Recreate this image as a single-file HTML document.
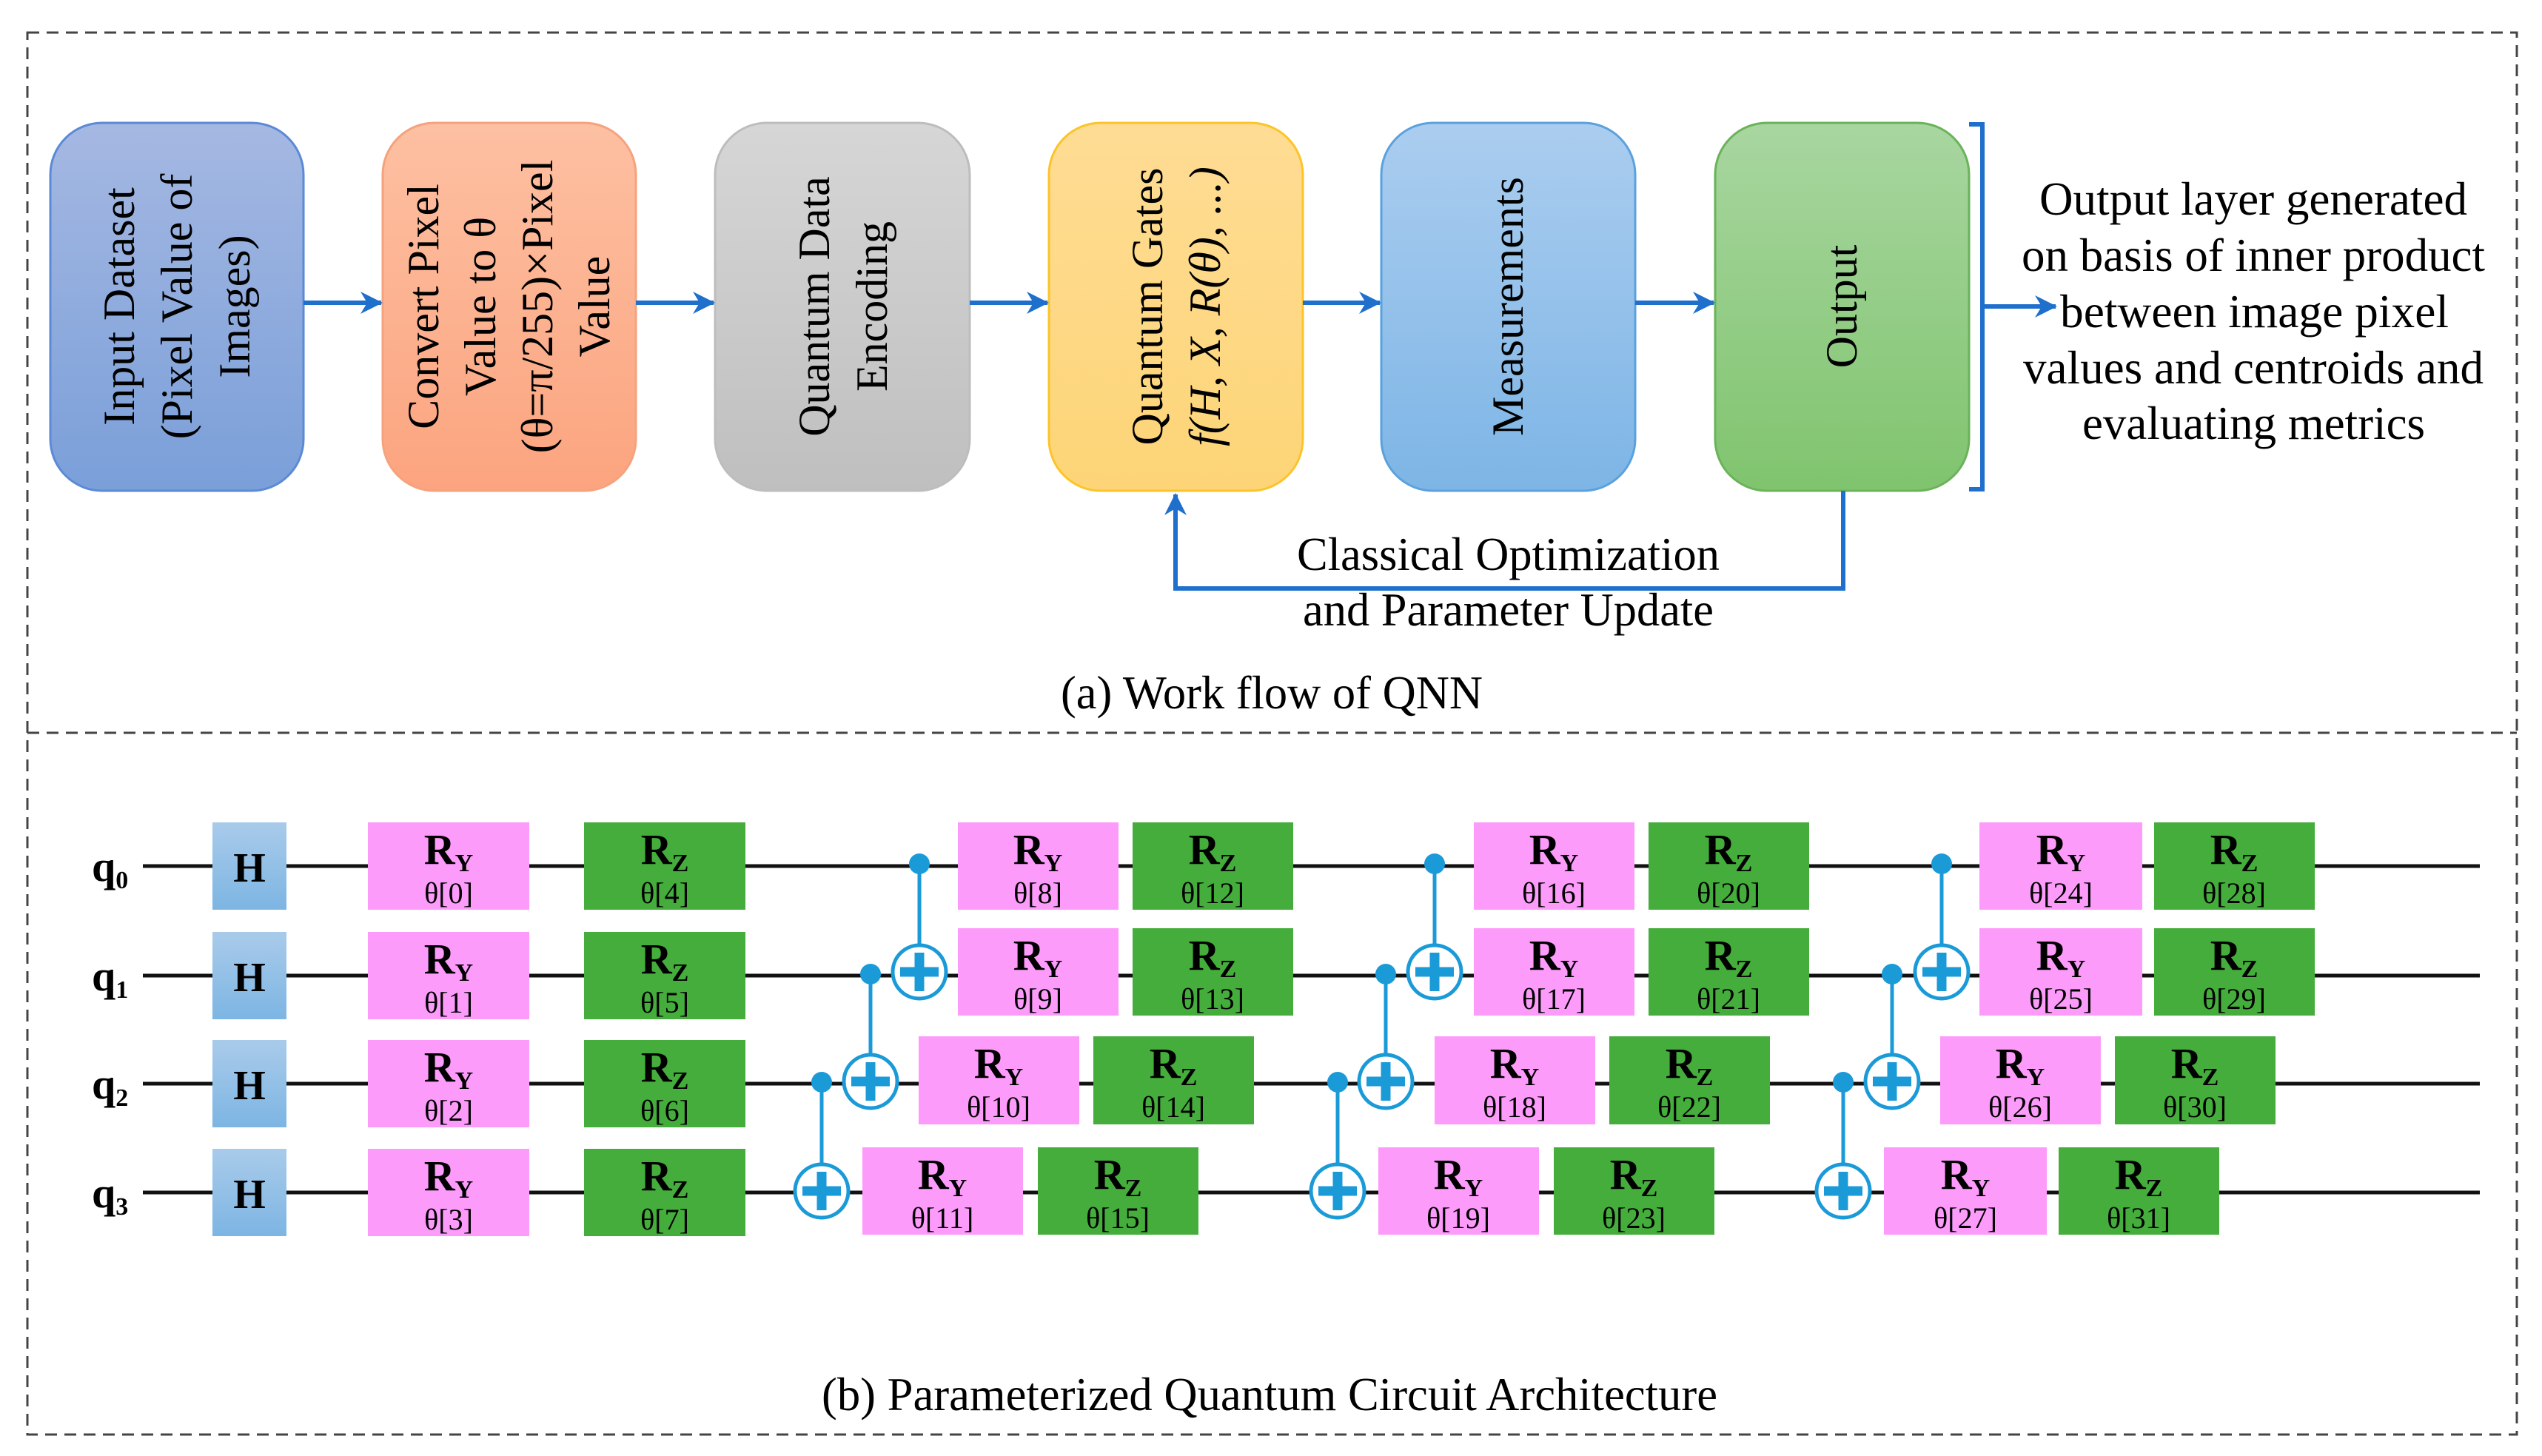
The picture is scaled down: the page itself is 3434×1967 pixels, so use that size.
<!DOCTYPE html>
<html><head><meta charset="utf-8"><style>
html,body{margin:0;padding:0;background:#fff}
svg{display:block}
text{font-family:"Liberation Serif","Times New Roman",serif;fill:#000}
.bt{font-size:60px}
.g{font-weight:bold;font-size:58px}
.s{font-weight:bold;font-size:34px}
.t{font-size:40px}
.c{font-size:64px}
</style></head><body>
<svg width="3434" height="1967" viewBox="0 0 3434 1967" xmlns="http://www.w3.org/2000/svg" font-family="Liberation Serif, serif">
<defs>
<linearGradient id="g1" x1="0" y1="0" x2="0" y2="1"><stop offset="0" stop-color="#a5b8e2"/><stop offset="1" stop-color="#7a9fd9"/></linearGradient>
<linearGradient id="g2" x1="0" y1="0" x2="0" y2="1"><stop offset="0" stop-color="#fdc0a2"/><stop offset="1" stop-color="#fca47f"/></linearGradient>
<linearGradient id="g3" x1="0" y1="0" x2="0" y2="1"><stop offset="0" stop-color="#d6d6d6"/><stop offset="1" stop-color="#bfbfbf"/></linearGradient>
<linearGradient id="g4" x1="0" y1="0" x2="0" y2="1"><stop offset="0" stop-color="#fedc94"/><stop offset="1" stop-color="#fdd577"/></linearGradient>
<linearGradient id="g5" x1="0" y1="0" x2="0" y2="1"><stop offset="0" stop-color="#abcdef"/><stop offset="1" stop-color="#7db5e6"/></linearGradient>
<linearGradient id="g6" x1="0" y1="0" x2="0" y2="1"><stop offset="0" stop-color="#a8d6a0"/><stop offset="1" stop-color="#80c46e"/></linearGradient>
<linearGradient id="gh" x1="0" y1="0" x2="0" y2="1"><stop offset="0" stop-color="#a9cbea"/><stop offset="1" stop-color="#7db5e3"/></linearGradient>
<marker id="ar2" viewBox="0 0 30 30" refX="28" refY="15" markerWidth="30" markerHeight="30" markerUnits="userSpaceOnUse" orient="auto">
<path d="M0,0 L30,15 L0,30 L9,15 Z" fill="#1f6fcc"/></marker>
</defs>

<rect x="37" y="44" width="3363" height="1894" fill="none" stroke="#444" stroke-width="3" stroke-dasharray="16,10"/>
<line x1="37" y1="990" x2="3400" y2="990" stroke="#444" stroke-width="3" stroke-dasharray="16,10"/>

<rect x="68" y="166" width="342" height="497" rx="70" fill="url(#g1)" stroke="#5b8ad6" stroke-width="3"/>
<rect x="517" y="166" width="342" height="497" rx="70" fill="url(#g2)" stroke="#f5a27d" stroke-width="3"/>
<rect x="966" y="166" width="344" height="497" rx="70" fill="url(#g3)" stroke="#bdbdbd" stroke-width="3"/>
<rect x="1417" y="166" width="343" height="497" rx="70" fill="url(#g4)" stroke="#fcc429" stroke-width="3"/>
<rect x="1866" y="166" width="343" height="497" rx="70" fill="url(#g5)" stroke="#5aa1de" stroke-width="3"/>
<rect x="2317" y="166" width="343" height="497" rx="70" fill="url(#g6)" stroke="#6ab35a" stroke-width="3"/>

<g transform="rotate(-90 239 414)"><text class="bt" x="239" y="414" text-anchor="middle">
<tspan x="239" dy="-58">Input Dataset</tspan><tspan x="239" dy="78">(Pixel Value of</tspan><tspan x="239" dy="78">Images)</tspan></text></g>
<g transform="rotate(-90 688 414)"><text class="bt" x="688" y="414" text-anchor="middle">
<tspan x="688" dy="-96">Convert Pixel</tspan><tspan x="688" dy="77">Value to θ</tspan><tspan x="688" dy="77">(θ=π/255)×Pixel</tspan><tspan x="688" dy="77">Value</tspan></text></g>
<g transform="rotate(-90 1138 414)"><text class="bt" x="1138" y="414" text-anchor="middle">
<tspan x="1138" dy="-18">Quantum Data</tspan><tspan x="1138" dy="78">Encoding</tspan></text></g>
<g transform="rotate(-90 1588 414)"><text class="bt" x="1588" y="414" text-anchor="middle">
<tspan x="1588" dy="-18">Quantum Gates</tspan><tspan x="1588" dy="78" font-style="italic">f(H, X, R(θ), ...)</tspan></text></g>
<g transform="rotate(-90 2037 414)"><text class="bt" x="2037" y="414" text-anchor="middle" dy="20">Measurements</text></g>
<g transform="rotate(-90 2488 414)"><text class="bt" x="2488" y="414" text-anchor="middle" dy="20">Output</text></g>

<g stroke="#1f6fcc" stroke-width="6" fill="none">
<line x1="410" y1="409" x2="515" y2="409" marker-end="url(#ar2)"/>
<line x1="859" y1="409" x2="964" y2="409" marker-end="url(#ar2)"/>
<line x1="1310" y1="409" x2="1415" y2="409" marker-end="url(#ar2)"/>
<line x1="1760" y1="409" x2="1864" y2="409" marker-end="url(#ar2)"/>
<line x1="2209" y1="409" x2="2315" y2="409" marker-end="url(#ar2)"/>
<path d="M2660,168 H2678 V661 H2660"/>
<line x1="2678" y1="414" x2="2777" y2="414" marker-end="url(#ar2)"/>
<path d="M2490,663 V795 H1588 V668" marker-end="url(#ar2)"/>
</g>

<text class="c" x="2755" y="290" textLength="578" lengthAdjust="spacingAndGlyphs">Output layer generated</text>
<text class="c" x="2731" y="366" textLength="626" lengthAdjust="spacingAndGlyphs">on basis of inner product</text>
<text class="c" x="2783" y="442" textLength="525" lengthAdjust="spacingAndGlyphs">between image pixel</text>
<text class="c" x="2733" y="518" textLength="622" lengthAdjust="spacingAndGlyphs">values and centroids and</text>
<text class="c" x="2813" y="593" textLength="463" lengthAdjust="spacingAndGlyphs">evaluating metrics</text>
<text class="c" x="1752" y="770" textLength="571" lengthAdjust="spacingAndGlyphs">Classical Optimization</text>
<text class="c" x="1760" y="845" textLength="555" lengthAdjust="spacingAndGlyphs">and Parameter Update</text>
<text class="c" x="1433" y="957" textLength="570" lengthAdjust="spacingAndGlyphs">(a) Work flow of QNN</text>
<text class="c" x="1110" y="1905" textLength="1210" lengthAdjust="spacingAndGlyphs">(b) Parameterized Quantum Circuit Architecture</text>

<g stroke="#111" stroke-width="5">
<line x1="193" y1="1170" x2="3350" y2="1170"/>
<line x1="193" y1="1318" x2="3350" y2="1318"/>
<line x1="193" y1="1464" x2="3350" y2="1464"/>
<line x1="193" y1="1611" x2="3350" y2="1611"/>
</g>
<g style="font-weight:bold;font-size:58px">
<text x="124" y="1190">q<tspan font-size="34" dy="10">0</tspan></text>
<text x="124" y="1338">q<tspan font-size="34" dy="10">1</tspan></text>
<text x="124" y="1484">q<tspan font-size="34" dy="10">2</tspan></text>
<text x="124" y="1631">q<tspan font-size="34" dy="10">3</tspan></text>
</g>

<g fill="url(#gh)">
<rect x="287" y="1111" width="100" height="118"/>
<rect x="287" y="1259" width="100" height="118"/>
<rect x="287" y="1405" width="100" height="118"/>
<rect x="287" y="1552" width="100" height="118"/>
</g>
<g style="font-weight:bold;font-size:56px">
<text x="337" y="1191" text-anchor="middle">H</text>
<text x="337" y="1339" text-anchor="middle">H</text>
<text x="337" y="1485" text-anchor="middle">H</text>
<text x="337" y="1632" text-anchor="middle">H</text>
</g>

<g fill="#fd9bfb">
<rect x="497" y="1111" width="218" height="118"/><rect x="497" y="1259" width="218" height="118"/><rect x="497" y="1405" width="218" height="118"/><rect x="497" y="1552" width="218" height="118"/>
<rect x="1294" y="1111" width="217" height="118"/><rect x="1294" y="1254" width="217" height="118"/><rect x="1241" y="1400" width="217" height="119"/><rect x="1165" y="1550" width="217" height="118"/>
<rect x="1991" y="1111" width="217" height="118"/><rect x="1991" y="1254" width="217" height="118"/><rect x="1938" y="1400" width="217" height="119"/><rect x="1862" y="1550" width="217" height="118"/>
<rect x="2674" y="1111" width="220" height="118"/><rect x="2674" y="1254" width="220" height="118"/><rect x="2621" y="1400" width="217" height="119"/><rect x="2545" y="1550" width="220" height="118"/>
</g>
<g fill="#44ad3b">
<rect x="789" y="1111" width="218" height="118"/><rect x="789" y="1259" width="218" height="118"/><rect x="789" y="1405" width="218" height="118"/><rect x="789" y="1552" width="218" height="118"/>
<rect x="1530" y="1111" width="217" height="118"/><rect x="1530" y="1254" width="217" height="118"/><rect x="1477" y="1400" width="217" height="119"/><rect x="1402" y="1550" width="217" height="118"/>
<rect x="2227" y="1111" width="217" height="118"/><rect x="2227" y="1254" width="217" height="118"/><rect x="2174" y="1400" width="217" height="119"/><rect x="2099" y="1550" width="217" height="118"/>
<rect x="2910" y="1111" width="217" height="118"/><rect x="2910" y="1254" width="217" height="118"/><rect x="2857" y="1400" width="217" height="119"/><rect x="2781" y="1550" width="217" height="118"/>
</g>

<g>
<text class="g" x="606" y="1167" text-anchor="middle">R<tspan class="s" dy="10">Y</tspan></text><text class="t" x="606" y="1220" text-anchor="middle">θ[0]</text>
<text class="g" x="606" y="1315" text-anchor="middle">R<tspan class="s" dy="10">Y</tspan></text><text class="t" x="606" y="1368" text-anchor="middle">θ[1]</text>
<text class="g" x="606" y="1461" text-anchor="middle">R<tspan class="s" dy="10">Y</tspan></text><text class="t" x="606" y="1514" text-anchor="middle">θ[2]</text>
<text class="g" x="606" y="1608" text-anchor="middle">R<tspan class="s" dy="10">Y</tspan></text><text class="t" x="606" y="1661" text-anchor="middle">θ[3]</text>
<text class="g" x="898" y="1167" text-anchor="middle">R<tspan class="s" dy="10">Z</tspan></text><text class="t" x="898" y="1220" text-anchor="middle">θ[4]</text>
<text class="g" x="898" y="1315" text-anchor="middle">R<tspan class="s" dy="10">Z</tspan></text><text class="t" x="898" y="1368" text-anchor="middle">θ[5]</text>
<text class="g" x="898" y="1461" text-anchor="middle">R<tspan class="s" dy="10">Z</tspan></text><text class="t" x="898" y="1514" text-anchor="middle">θ[6]</text>
<text class="g" x="898" y="1608" text-anchor="middle">R<tspan class="s" dy="10">Z</tspan></text><text class="t" x="898" y="1661" text-anchor="middle">θ[7]</text>
<text class="g" x="1402" y="1167" text-anchor="middle">R<tspan class="s" dy="10">Y</tspan></text><text class="t" x="1402" y="1220" text-anchor="middle">θ[8]</text>
<text class="g" x="1402" y="1310" text-anchor="middle">R<tspan class="s" dy="10">Y</tspan></text><text class="t" x="1402" y="1363" text-anchor="middle">θ[9]</text>
<text class="g" x="1349" y="1456" text-anchor="middle">R<tspan class="s" dy="10">Y</tspan></text><text class="t" x="1349" y="1509" text-anchor="middle">θ[10]</text>
<text class="g" x="1273" y="1606" text-anchor="middle">R<tspan class="s" dy="10">Y</tspan></text><text class="t" x="1273" y="1659" text-anchor="middle">θ[11]</text>
<text class="g" x="1638" y="1167" text-anchor="middle">R<tspan class="s" dy="10">Z</tspan></text><text class="t" x="1638" y="1220" text-anchor="middle">θ[12]</text>
<text class="g" x="1638" y="1310" text-anchor="middle">R<tspan class="s" dy="10">Z</tspan></text><text class="t" x="1638" y="1363" text-anchor="middle">θ[13]</text>
<text class="g" x="1585" y="1456" text-anchor="middle">R<tspan class="s" dy="10">Z</tspan></text><text class="t" x="1585" y="1509" text-anchor="middle">θ[14]</text>
<text class="g" x="1510" y="1606" text-anchor="middle">R<tspan class="s" dy="10">Z</tspan></text><text class="t" x="1510" y="1659" text-anchor="middle">θ[15]</text>
<text class="g" x="2099" y="1167" text-anchor="middle">R<tspan class="s" dy="10">Y</tspan></text><text class="t" x="2099" y="1220" text-anchor="middle">θ[16]</text>
<text class="g" x="2099" y="1310" text-anchor="middle">R<tspan class="s" dy="10">Y</tspan></text><text class="t" x="2099" y="1363" text-anchor="middle">θ[17]</text>
<text class="g" x="2046" y="1456" text-anchor="middle">R<tspan class="s" dy="10">Y</tspan></text><text class="t" x="2046" y="1509" text-anchor="middle">θ[18]</text>
<text class="g" x="1970" y="1606" text-anchor="middle">R<tspan class="s" dy="10">Y</tspan></text><text class="t" x="1970" y="1659" text-anchor="middle">θ[19]</text>
<text class="g" x="2335" y="1167" text-anchor="middle">R<tspan class="s" dy="10">Z</tspan></text><text class="t" x="2335" y="1220" text-anchor="middle">θ[20]</text>
<text class="g" x="2335" y="1310" text-anchor="middle">R<tspan class="s" dy="10">Z</tspan></text><text class="t" x="2335" y="1363" text-anchor="middle">θ[21]</text>
<text class="g" x="2282" y="1456" text-anchor="middle">R<tspan class="s" dy="10">Z</tspan></text><text class="t" x="2282" y="1509" text-anchor="middle">θ[22]</text>
<text class="g" x="2207" y="1606" text-anchor="middle">R<tspan class="s" dy="10">Z</tspan></text><text class="t" x="2207" y="1659" text-anchor="middle">θ[23]</text>
<text class="g" x="2784" y="1167" text-anchor="middle">R<tspan class="s" dy="10">Y</tspan></text><text class="t" x="2784" y="1220" text-anchor="middle">θ[24]</text>
<text class="g" x="2784" y="1310" text-anchor="middle">R<tspan class="s" dy="10">Y</tspan></text><text class="t" x="2784" y="1363" text-anchor="middle">θ[25]</text>
<text class="g" x="2729" y="1456" text-anchor="middle">R<tspan class="s" dy="10">Y</tspan></text><text class="t" x="2729" y="1509" text-anchor="middle">θ[26]</text>
<text class="g" x="2655" y="1606" text-anchor="middle">R<tspan class="s" dy="10">Y</tspan></text><text class="t" x="2655" y="1659" text-anchor="middle">θ[27]</text>
<text class="g" x="3018" y="1167" text-anchor="middle">R<tspan class="s" dy="10">Z</tspan></text><text class="t" x="3018" y="1220" text-anchor="middle">θ[28]</text>
<text class="g" x="3018" y="1310" text-anchor="middle">R<tspan class="s" dy="10">Z</tspan></text><text class="t" x="3018" y="1363" text-anchor="middle">θ[29]</text>
<text class="g" x="2965" y="1456" text-anchor="middle">R<tspan class="s" dy="10">Z</tspan></text><text class="t" x="2965" y="1509" text-anchor="middle">θ[30]</text>
<text class="g" x="2889" y="1606" text-anchor="middle">R<tspan class="s" dy="10">Z</tspan></text><text class="t" x="2889" y="1659" text-anchor="middle">θ[31]</text>
</g>

<g stroke="#1b9ad8" stroke-width="5">
<line x1="1242" y1="1167" x2="1242" y2="1278"/>
<line x1="1176" y1="1316" x2="1176" y2="1426"/>
<line x1="1110" y1="1462" x2="1110" y2="1573"/>
<line x1="1938" y1="1167" x2="1938" y2="1278"/>
<line x1="1872" y1="1316" x2="1872" y2="1426"/>
<line x1="1807" y1="1462" x2="1807" y2="1573"/>
<line x1="2623" y1="1167" x2="2623" y2="1278"/>
<line x1="2556" y1="1316" x2="2556" y2="1426"/>
<line x1="2490" y1="1462" x2="2490" y2="1573"/>
</g>
<g fill="#1b9ad8">
<circle cx="1242" cy="1167" r="14"/><circle cx="1176" cy="1316" r="14"/><circle cx="1110" cy="1462" r="14"/>
<circle cx="1938" cy="1167" r="14"/><circle cx="1872" cy="1316" r="14"/><circle cx="1807" cy="1462" r="14"/>
<circle cx="2623" cy="1167" r="14"/><circle cx="2556" cy="1316" r="14"/><circle cx="2490" cy="1462" r="14"/>
</g>
<g fill="#fff" stroke="#1b9ad8" stroke-width="5">
<circle cx="1242" cy="1313" r="36"/><circle cx="1176" cy="1461" r="36"/><circle cx="1110" cy="1609" r="36"/>
<circle cx="1938" cy="1313" r="36"/><circle cx="1872" cy="1461" r="36"/><circle cx="1807" cy="1609" r="36"/>
<circle cx="2623" cy="1313" r="36"/><circle cx="2556" cy="1461" r="36"/><circle cx="2490" cy="1609" r="36"/>
</g>
<g stroke="#1b9ad8" stroke-width="13">
<path d="M1216,1313 H1268 M1242,1287 V1339"/>
<path d="M1150,1461 H1202 M1176,1435 V1487"/>
<path d="M1084,1609 H1136 M1110,1583 V1635"/>
<path d="M1912,1313 H1964 M1938,1287 V1339"/>
<path d="M1846,1461 H1898 M1872,1435 V1487"/>
<path d="M1781,1609 H1833 M1807,1583 V1635"/>
<path d="M2597,1313 H2649 M2623,1287 V1339"/>
<path d="M2530,1461 H2582 M2556,1435 V1487"/>
<path d="M2464,1609 H2516 M2490,1583 V1635"/>
</g>
</svg>
</body></html>
